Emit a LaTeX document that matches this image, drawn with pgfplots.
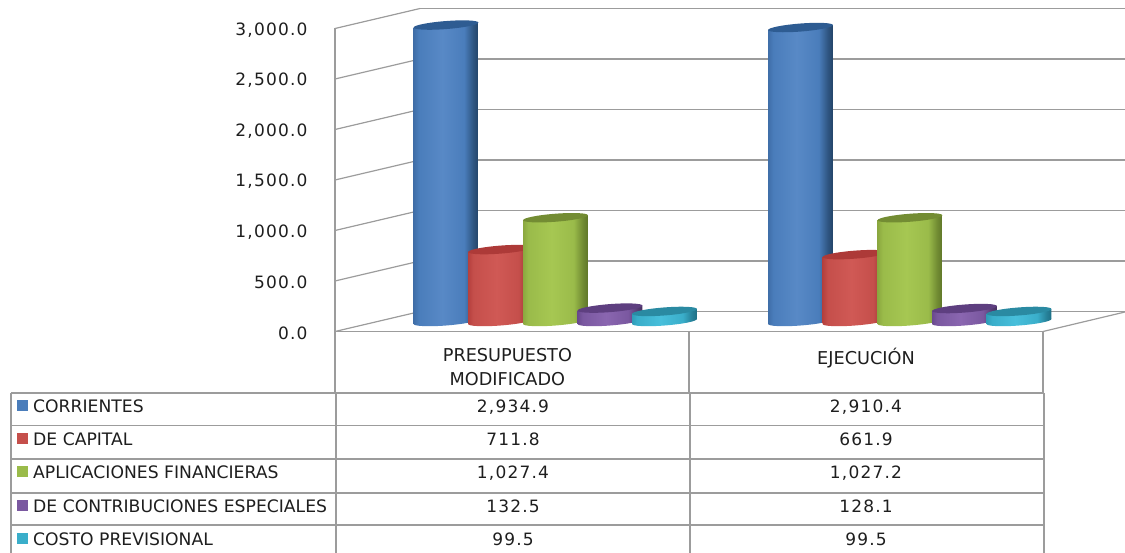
\documentclass[border=0pt]{standalone}
\usepackage{pgfplots}
\pgfplotsset{compat=1.18}
\usepackage{fontspec}
\setmainfont{DejaVu Sans}
\newfontfamily\tickfont[LetterSpace=7]{DejaVu Sans}
\definecolor{rulegray}{HTML}{9C9C9C}
\definecolor{inkdark}{HTML}{1E1E1E}

% Cylinder colours: side shading, end caps; the ellipses lean by the same slope as the sides
\newcommand{\defcyl}[6]{%
  \definecolor{#1-a}{HTML}{#2}\definecolor{#1-b}{HTML}{#3}%
  \definecolor{#1-c}{HTML}{#4}\definecolor{#1-d}{HTML}{#5}\definecolor{#1-cap}{HTML}{#6}%
  \pgfdeclarehorizontalshading{cyl#1}{100bp}{%
    color(0bp)=(#1-a); color(25bp)=(#1-a); color(29bp)=(#1-b); color(47bp)=(#1-c);
    color(64bp)=(#1-b); color(71bp)=(#1-d!70!#1-b); color(75bp)=(#1-d); color(100bp)=(#1-d)}%
  \pgfdeclareplotmark{top#1}{%
    \pgfpathellipse{\pgfpointorigin}{\pgfqpoint{32.4pt}{2.5pt}}{\pgfqpoint{-0.3pt}{4pt}}%
    \pgfsetfillcolor{#1-cap}\pgfusepathqfill}%
  \pgfdeclareplotmark{base#1}{%
    \pgfpathellipse{\pgfpointorigin}{\pgfqpoint{32.4pt}{2.5pt}}{\pgfqpoint{-0.3pt}{4pt}}%
    \pgfshadepath{cyl#1}{0}\pgfusepath{discard}}%
}
\defcyl{blue}{3F6EA8}{4A7DBB}{5889C6}{234468}{2E5C92}
\defcyl{red}{B5403D}{C54F4B}{D05955}{8C2D2B}{AD3A38}
\defcyl{green}{8BA83F}{9ABB4A}{A6C752}{5F7628}{738C33}
\defcyl{violet}{6A4A8E}{7A58A0}{8A66B0}{46305F}{5E3F80}
\defcyl{teal}{2F9DB8}{3AAECA}{48BFDB}{1E6F85}{2A8AA2}

% One cylinder: base ellipse, shaded side, top ellipse
\newcommand{\cyl}[3]{%
  \addplot[forget plot,only marks,mark=base#3] coordinates {(#1,0)};
  \addplot[forget plot,ybar,bar shift=0pt,bar width=64.8pt,draw=none,shade,shading=cyl#3,
           yshift={-0.077*#1},yslant=0.077] coordinates {(#1,#2)};
  \addplot[forget plot,only marks,mark=top#3] coordinates {(#1,#2)};
}

\begin{document}
\begin{tikzpicture}[x=1pt,y=1pt]
\useasboundingbox (0,0) rectangle (1125,553);

% Side wall, back wall and floor rules
\begin{scope}[rulegray,line width=1.2pt]
  \foreach \y in {331.5,281,230.5,180,129.5,79,28.5}{
    \draw (335,553-\y) -- ++(85,{0.235*85});
    \draw (420,{553-\y+0.235*85}) -- (1125,{553-\y+0.235*85});
  }
  \draw (1043,553-331.5) -- (1125,553-312);
\end{scope}

% Value axis and category labels on the front plane
\begin{axis}[
  at={(335pt,221.5pt)},anchor=south west,
  scale only axis,width=708pt,height=303pt,
  xmin=0,xmax=2,ymin=0,ymax=3000,
  axis x line=bottom,axis y line=left,
  axis line style={rulegray,line width=1.2pt,-},
  major tick length=0pt,
  xtick={0.487,1.5},
  xticklabels={PRESUPUESTO\\MODIFICADO,EJECUCIÓN},
  xticklabel style={align=center,font=\fontsize{17.7}{24}\selectfont,text=inkdark,yshift=-13pt,anchor=north},
  ytick={0,500,...,3000},
  yticklabel style={font=\tickfont\fontsize{17}{18}\selectfont,text=inkdark,anchor=east,xshift=-24pt,yshift=-1.5pt},
  /pgf/number format/.cd,fixed,fixed zerofill,precision=1,1000 sep={,},assume math mode=true,
]
\end{axis}

% Cylinders, on the mid-depth plane; marks stay in plot order so nearer cylinders overlap
\begin{axis}[
  at={(0,0)},anchor=south west,
  scale only axis,width=1125pt,height=553pt,
  xmin=0,xmax=1125,ymin=-2292.1,ymax=3183.2,
  hide axis,clip=true,clip marker paths=true,
]
\cyl{446}{2934.9}{blue}
\cyl{500.5}{711.8}{red}
\cyl{555.5}{1027.4}{green}
\cyl{610}{132.5}{violet}
\cyl{664.5}{99.5}{teal}
\cyl{800.5}{2910.4}{blue}
\cyl{855}{661.9}{red}
\cyl{910}{1027.2}{green}
\cyl{964.5}{128.1}{violet}
\cyl{1019}{99.5}{teal}
\end{axis}

% Data table below the plot
\begin{scope}[rulegray,line width=1.2pt]
  \draw (689,553-331.5) -- (689,553-393);
  \draw (1043,553-331.5) -- (1043,553-393);
  \draw (335,553-331.5) -- (335,553-393);
  \foreach \y in {393,425.5,459,493,525}
    \draw (11,553-\y) -- (1044,553-\y);
  \foreach \x in {11,336,690,1044}
    \draw (\x,553-393) -- (\x,0);
\end{scope}
\newcommand{\tablerow}[5]{%
  \fill[#2] (17,{553-#1-5.5}) rectangle ++(11,11);
  \node[anchor=base west,inner sep=0pt,text=inkdark,font=\fontsize{17.2}{18}\selectfont] at (33,{553-#1-6.5}) {#3};
  \node[anchor=base,inner sep=0pt,text=inkdark,font=\tickfont\fontsize{17}{18}\selectfont] at (513,{553-#1-6.5}) {#4};
  \node[anchor=base,inner sep=0pt,text=inkdark,font=\tickfont\fontsize{17}{18}\selectfont] at (866,{553-#1-6.5}) {#5};
}
\tablerow{406}{blue-b}{CORRIENTES}{2,934.9}{2,910.4}
\tablerow{439}{red-b}{DE CAPITAL}{711.8}{661.9}
\tablerow{472}{green-b}{APLICACIONES FINANCIERAS}{1,027.4}{1,027.2}
\tablerow{506}{violet-b}{DE CONTRIBUCIONES ESPECIALES}{132.5}{128.1}
\tablerow{539}{teal-b}{COSTO PREVISIONAL}{99.5}{99.5}
\end{tikzpicture}
\end{document}
